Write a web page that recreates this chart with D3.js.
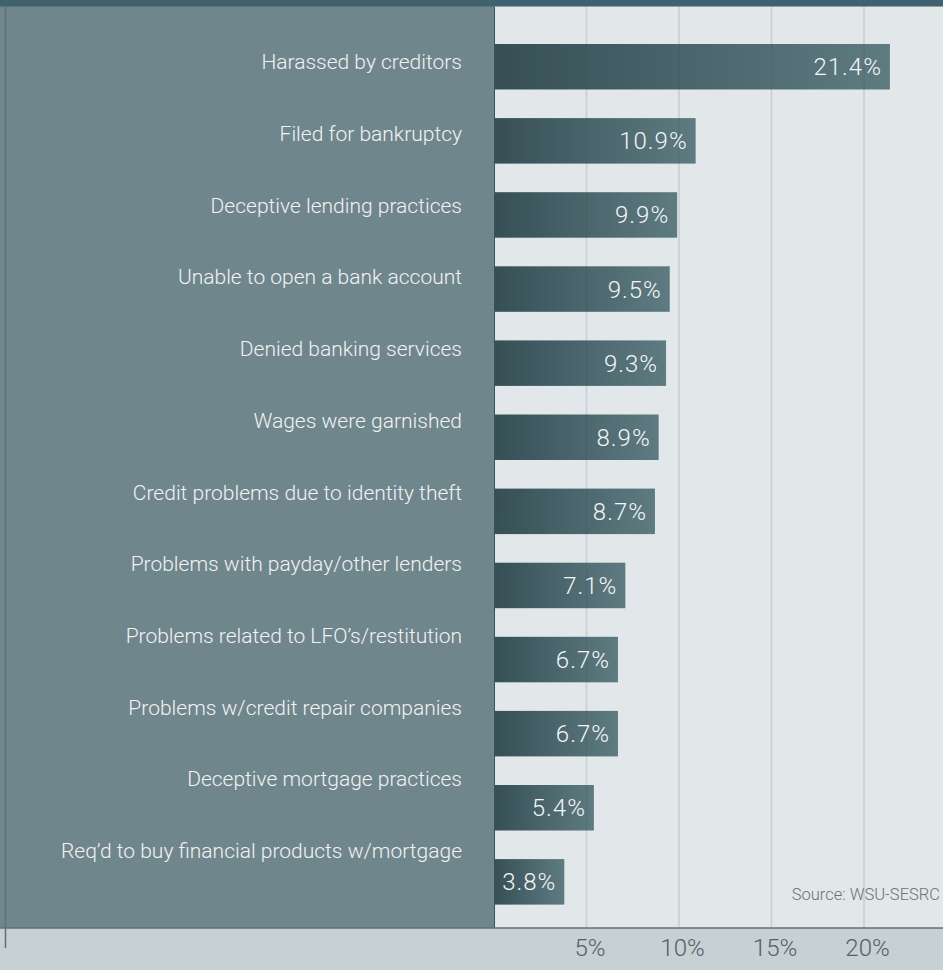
<!DOCTYPE html>
<html>
<head>
<meta charset="utf-8">
<script src="https://cdn.jsdelivr.net/npm/d3@7"></script>
<style>
  html, body { margin: 0; padding: 0; background: #ffffff; }
  svg { display: block; }
  text { font-family: Roboto, "Liberation Sans", Arial, sans-serif; font-weight: 300; }
</style>
</head>
<body>
<svg id="chart" width="943" height="970"></svg>
<script>
const categories = [
  "Harassed by creditors",
  "Filed for bankruptcy",
  "Deceptive lending practices",
  "Unable to open a bank account",
  "Denied banking services",
  "Wages were garnished",
  "Credit problems due to identity theft",
  "Problems with payday/other lenders",
  "Problems related to LFO\u2019s/restitution",
  "Problems w/credit repair companies",
  "Deceptive mortgage practices",
  "Req\u2019d to buy financial products w/mortgage"
];
const values = [21.4, 10.9, 9.9, 9.5, 9.3, 8.9, 8.7, 7.1, 6.7, 6.7, 5.4, 3.8];
const tickValues = [5, 10, 15, 20];
const tickLabels = ["5%", "10%", "15%", "20%"];
const sourceText = "Source: WSU-SESRC";

const W = 943, H = 970;
const topBar = 6.5;
const plotLeft = 494;
const bandTop = 928;

const svg = d3.select("#chart");

const x = d3.scaleLinear().domain([0, 24]).range([plotLeft, plotLeft + 24 * 18.5]);
const y = d3.scaleBand().domain(categories).range([44, 904.6]).paddingInner(0.386).paddingOuter(0);
const yLabel = d3.scalePoint().domain(categories).range([69.3, 858]);

const defs = svg.append("defs");
const grad = defs.append("linearGradient").attr("id", "barGrad")
  .attr("x1", "0%").attr("x2", "100%").attr("y1", "0%").attr("y2", "0%");
grad.append("stop").attr("offset", "0%").attr("stop-color", "#354f55");
grad.append("stop").attr("offset", "100%").attr("stop-color", "#5f7b82");

svg.append("rect").attr("x", 0).attr("y", 0).attr("width", W).attr("height", H).attr("fill", "#e2e7e9");
svg.append("rect").attr("x", 0).attr("y", 0).attr("width", plotLeft).attr("height", bandTop).attr("fill", "#70868d");
svg.append("rect").attr("x", 0).attr("y", bandTop).attr("width", W).attr("height", H - bandTop).attr("fill", "#c7d0d2");
svg.append("rect").attr("x", 0).attr("y", 0).attr("width", W).attr("height", topBar).attr("fill", "#3f6170");

svg.append("g").selectAll("rect").data(values).join("rect")
  .attr("x", x(0))
  .attr("y", (d, i) => y(categories[i]))
  .attr("width", d => x(d) - x(0))
  .attr("height", y.bandwidth())
  .attr("fill", "url(#barGrad)");

svg.append("g").selectAll("line").data(tickValues).join("line")
  .attr("x1", d => x(d)).attr("x2", d => x(d))
  .attr("y1", topBar).attr("y2", bandTop)
  .attr("stroke", "rgba(55,80,90,0.16)")
  .attr("stroke-width", 1.5);

svg.append("line").attr("x1", plotLeft + 0.5).attr("x2", plotLeft + 0.5)
  .attr("y1", topBar).attr("y2", bandTop)
  .attr("stroke", "#3a5259").attr("stroke-width", 1);

svg.append("line").attr("x1", 0).attr("x2", W)
  .attr("y1", bandTop).attr("y2", bandTop)
  .attr("stroke", "#5d737a").attr("stroke-width", 1.5);

svg.append("line").attr("x1", 5.5).attr("x2", 5.5)
  .attr("y1", topBar).attr("y2", 948)
  .attr("stroke", "#5b7077").attr("stroke-width", 1.5);

svg.append("g").selectAll("text").data(categories).join("text")
  .attr("x", 462)
  .attr("y", d => yLabel(d))
  .attr("text-anchor", "end")
  .attr("fill", "#f1f3f3")
  .attr("font-size", 21)
  .text(d => d);

svg.append("g").selectAll("text").data(values).join("text")
  .attr("x", d => x(d) - 8)
  .attr("y", (d, i) => y(categories[i]) + y.bandwidth() / 2 + 8.5)
  .attr("text-anchor", "end")
  .attr("fill", "#f4f6f6")
  .attr("font-size", 24)
  .attr("letter-spacing", 1)
  .text(d => d.toFixed(1) + "%");

const axis = d3.axisBottom(x).tickValues(tickValues).tickFormat((d, i) => tickLabels[i]).tickSize(0).tickPadding(0);
const axisG = svg.append("g").attr("transform", `translate(3, ${bandTop})`).call(axis);
axisG.select(".domain").remove();
axisG.selectAll("text")
  .attr("y", 28).attr("dy", 0)
  .attr("fill", "#4d6369")
  .attr("font-size", 24)
  .attr("font-family", "Roboto, 'Liberation Sans', Arial, sans-serif")
  .attr("font-weight", 300);

svg.append("text").attr("x", 940).attr("y", 900)
  .attr("text-anchor", "end")
  .attr("fill", "#6b7578")
  .attr("font-size", 16.5)
  .attr("font-weight", 400)
  .text(sourceText);
</script>
</body>
</html>
